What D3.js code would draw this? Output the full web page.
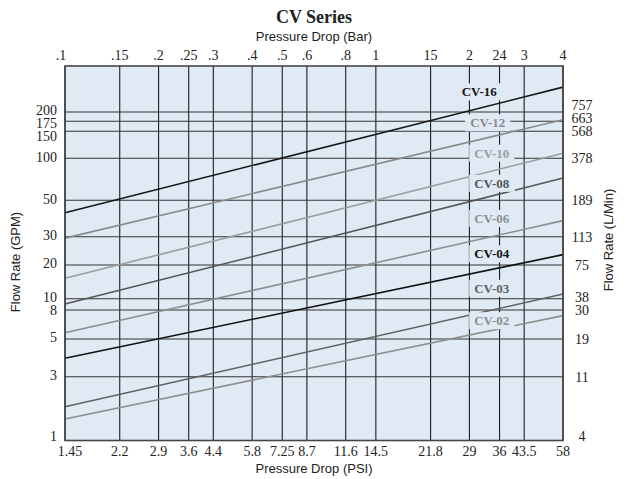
<!DOCTYPE html>
<html>
<head>
<meta charset="utf-8">
<script src="https://cdn.jsdelivr.net/npm/d3@7"></script>
<style>
  body { margin: 0; background: #fff; }
  svg { display: block; }
</style>
</head>
<body>
<svg id="chart" width="628" height="479"></svg>
<script>
// Pressure drop gridlines (bar) with the labels printed top and bottom
let barTicks = [0.1, 0.15, 0.2, 0.25, 0.3, 0.4, 0.5, 0.6, 0.8, 1, 1.5, 2, 2.5, 3, 4];
let barLabels = [".1", ".15", ".2", ".25", ".3", ".4", ".5", ".6", ".8", "1", "15", "2", "24", "3", "4"];
let psiLabels = ["1.45", "2.2", "2.9", "3.6", "4.4", "5.8", "7.25", "8.7", "11.6", "14.5", "21.8", "29", "36", "43.5", "58"];

// Flow gridlines (GPM) and the matching L/Min labels
let gpmTicks = [1, 3, 5, 8, 10, 20, 30, 50, 100, 150, 175, 200];
let lpmLabels = ["4", "11", "19", "30", "38", "75", "113", "189", "378", "568", "663", "757"];

// Series: flow at .1 bar and at 4 bar (GPM), and where the name sits
let seriesNames = ["CV-16", "CV-12", "CV-10", "CV-08", "CV-06", "CV-04", "CV-03", "CV-02"];
let flowStart = [42.0, 29.4, 15.2, 9.0, 5.54, 3.85, 1.79, 1.45];
let flowEnd = [291, 179, 108, 72.2, 37.6, 23.2, 11.0, 7.3];
let labelBar = [2.15, 2.29, 2.36, 2.36, 2.36, 2.36, 2.36, 2.36];
let labelFlow = [271, 171, 108, 66.2, 38.8, 23.5, 12.4, 6.73];
let seriesColors = ["#161616", "#8a8a8a", "#9c9c9c", "#555555", "#8e8e8e", "#111111", "#616161", "#8e8e8e"];

let svg = d3.select("#chart");

let plot = {left: 65, right: 563, top: 66, bottom: 440.5};
let bg = "#e0eaf5";
let serif = "Liberation Serif, serif";
let sans = "Liberation Sans, Arial, sans-serif";

// x: log scale in bar
let x = d3.scaleLog()
    .domain([0.1, 4])
    .range([plot.left, plot.right]);

// y: the printed grid is not evenly spaced, so use a piecewise log scale
// through the gridline positions (top of the box is ~400 GPM)
let y = d3.scaleLog()
    .domain([1, 3, 5, 8, 10, 20, 30, 50, 100, 150, 175, 200, 400])
    .range([440.5, 376.7, 339, 310, 298.7, 265, 236.7, 200.3, 158.3, 131.3, 121.3, 112, 66]);

// background
svg.append("rect")
    .attr("x", plot.left)
    .attr("y", plot.top)
    .attr("width", plot.right - plot.left)
    .attr("height", plot.bottom - plot.top)
    .attr("fill", bg);

// vertical gridlines
svg.append("g")
    .selectAll("line")
    .data(barTicks)
    .join("line")
    .attr("x1", d => x(d))
    .attr("x2", d => x(d))
    .attr("y1", plot.top)
    .attr("y2", plot.bottom)
    .attr("stroke", "#1e1e1e")
    .attr("stroke-width", 1.1);

// horizontal gridlines
svg.append("g")
    .selectAll("line")
    .data(gpmTicks)
    .join("line")
    .attr("x1", plot.left)
    .attr("x2", plot.right)
    .attr("y1", d => y(d))
    .attr("y2", d => y(d))
    .attr("stroke", "#333")
    .attr("stroke-width", 1.1);

// series lines
let series = seriesNames.map((name, i) => ({
    name: name,
    color: seriesColors[i],
    pts: [[0.1, flowStart[i]], [4, flowEnd[i]]],
    lx: labelBar[i],
    ly: labelFlow[i]
}));

let line = d3.line()
    .x(d => x(d[0]))
    .y(d => y(d[1]));

svg.append("g")
    .selectAll("path")
    .data(series)
    .join("path")
    .attr("d", d => line(d.pts))
    .attr("fill", "none")
    .attr("stroke", d => d.color)
    .attr("stroke-width", 1.6);

// series names, with a patch of background behind them
let labels = svg.append("g")
    .selectAll("g")
    .data(series)
    .join("g")
    .attr("transform", d => `translate(${x(d.lx)},${y(d.ly)})`);

labels.append("text")
    .attr("text-anchor", "middle")
    .attr("dy", "0.35em")
    .attr("font-family", serif)
    .attr("font-weight", "bold")
    .attr("font-size", 13)
    .attr("fill", d => d.color)
    .text(d => d.name);

labels.each(function () {
    let g = d3.select(this);
    let b = g.select("text").node().getBBox();
    g.insert("rect", "text")
        .attr("x", b.x - 5)
        .attr("y", b.y - 1)
        .attr("width", b.width + 10)
        .attr("height", b.height + 2)
        .attr("fill", bg);
});

// plot border
svg.append("rect")
    .attr("x", plot.left)
    .attr("y", plot.top)
    .attr("width", plot.right - plot.left)
    .attr("height", plot.bottom - plot.top)
    .attr("fill", "none")
    .attr("stroke", "#454545")
    .attr("stroke-width", 1.6);

// top tick labels (bar)
svg.append("g")
    .selectAll("text")
    .data(barTicks)
    .join("text")
    .attr("x", (d, i) => x(d) + (i === 0 ? -4 : 0))
    .attr("y", 60)
    .attr("text-anchor", "middle")
    .attr("font-family", serif)
    .attr("font-size", 14)
    .attr("fill", "#222")
    .text((d, i) => barLabels[i]);

// bottom tick labels (psi)
svg.append("g")
    .selectAll("text")
    .data(barTicks)
    .join("text")
    .attr("x", (d, i) => x(d) + (i === 0 ? 5 : 0))
    .attr("y", 456)
    .attr("text-anchor", "middle")
    .attr("font-family", serif)
    .attr("font-size", 14)
    .attr("fill", "#222")
    .text((d, i) => psiLabels[i]);

// crowded tick labels get spread apart: left side pushes down from the top,
// right side pushes up from the bottom (as in the printed chart).
// tick ys are in value order, so they go bottom -> top on the page
let minGap = 13;
function spreadDown(ys) {
    let out = ys.slice();
    for (let i = out.length - 2; i >= 0; i--) {
        if (out[i] - out[i + 1] < minGap) out[i] = out[i + 1] + minGap;
    }
    return out;
}
function spreadUp(ys) {
    let out = ys.slice();
    for (let i = 1; i < out.length; i++) {
        if (out[i - 1] - out[i] < minGap) out[i] = out[i - 1] - minGap;
    }
    return out;
}
let tickY = gpmTicks.map(d => y(d));
let leftY = spreadDown(tickY);
let rightY = spreadUp(tickY);

// left tick labels (GPM)
svg.append("g")
    .selectAll("text")
    .data(gpmTicks)
    .join("text")
    .attr("x", 57)
    .attr("y", (d, i) => i === 0 ? tickY[i] : leftY[i] - 1.5)
    .attr("dy", (d, i) => i === 0 ? "0.05em" : "0.35em")
    .attr("text-anchor", "end")
    .attr("font-family", serif)
    .attr("font-size", 14)
    .attr("fill", "#222")
    .text(d => d);

// right tick labels (L/Min)
svg.append("g")
    .selectAll("text")
    .data(gpmTicks)
    .join("text")
    .attr("x", 582)
    .attr("y", (d, i) => i === 0 ? tickY[i] : rightY[i])
    .attr("dy", (d, i) => i === 0 ? "0.05em" : "0.35em")
    .attr("text-anchor", "middle")
    .attr("font-family", serif)
    .attr("font-size", 14)
    .attr("fill", "#222")
    .text((d, i) => lpmLabels[i]);

// titles
svg.append("text")
    .attr("x", (plot.left + plot.right) / 2)
    .attr("y", 23)
    .attr("text-anchor", "middle")
    .attr("font-family", serif)
    .attr("font-weight", "bold")
    .attr("font-size", 18)
    .attr("fill", "#222")
    .text("CV Series");

svg.append("text")
    .attr("x", (plot.left + plot.right) / 2)
    .attr("y", 41)
    .attr("text-anchor", "middle")
    .attr("font-family", sans)
    .attr("font-size", 13)
    .attr("fill", "#222")
    .text("Pressure Drop (Bar)");

svg.append("text")
    .attr("x", (plot.left + plot.right) / 2)
    .attr("y", 473)
    .attr("text-anchor", "middle")
    .attr("font-family", sans)
    .attr("font-size", 13)
    .attr("fill", "#222")
    .text("Pressure Drop (PSI)");

svg.append("text")
    .attr("transform", "translate(20,262) rotate(-90)")
    .attr("text-anchor", "middle")
    .attr("font-family", sans)
    .attr("font-size", 13)
    .attr("fill", "#222")
    .text("Flow Rate (GPM)");

svg.append("text")
    .attr("transform", "translate(613,240) rotate(-90)")
    .attr("text-anchor", "middle")
    .attr("font-family", sans)
    .attr("font-size", 13)
    .attr("fill", "#222")
    .text("Flow Rate (L/Min)");
</script>
</body>
</html>
